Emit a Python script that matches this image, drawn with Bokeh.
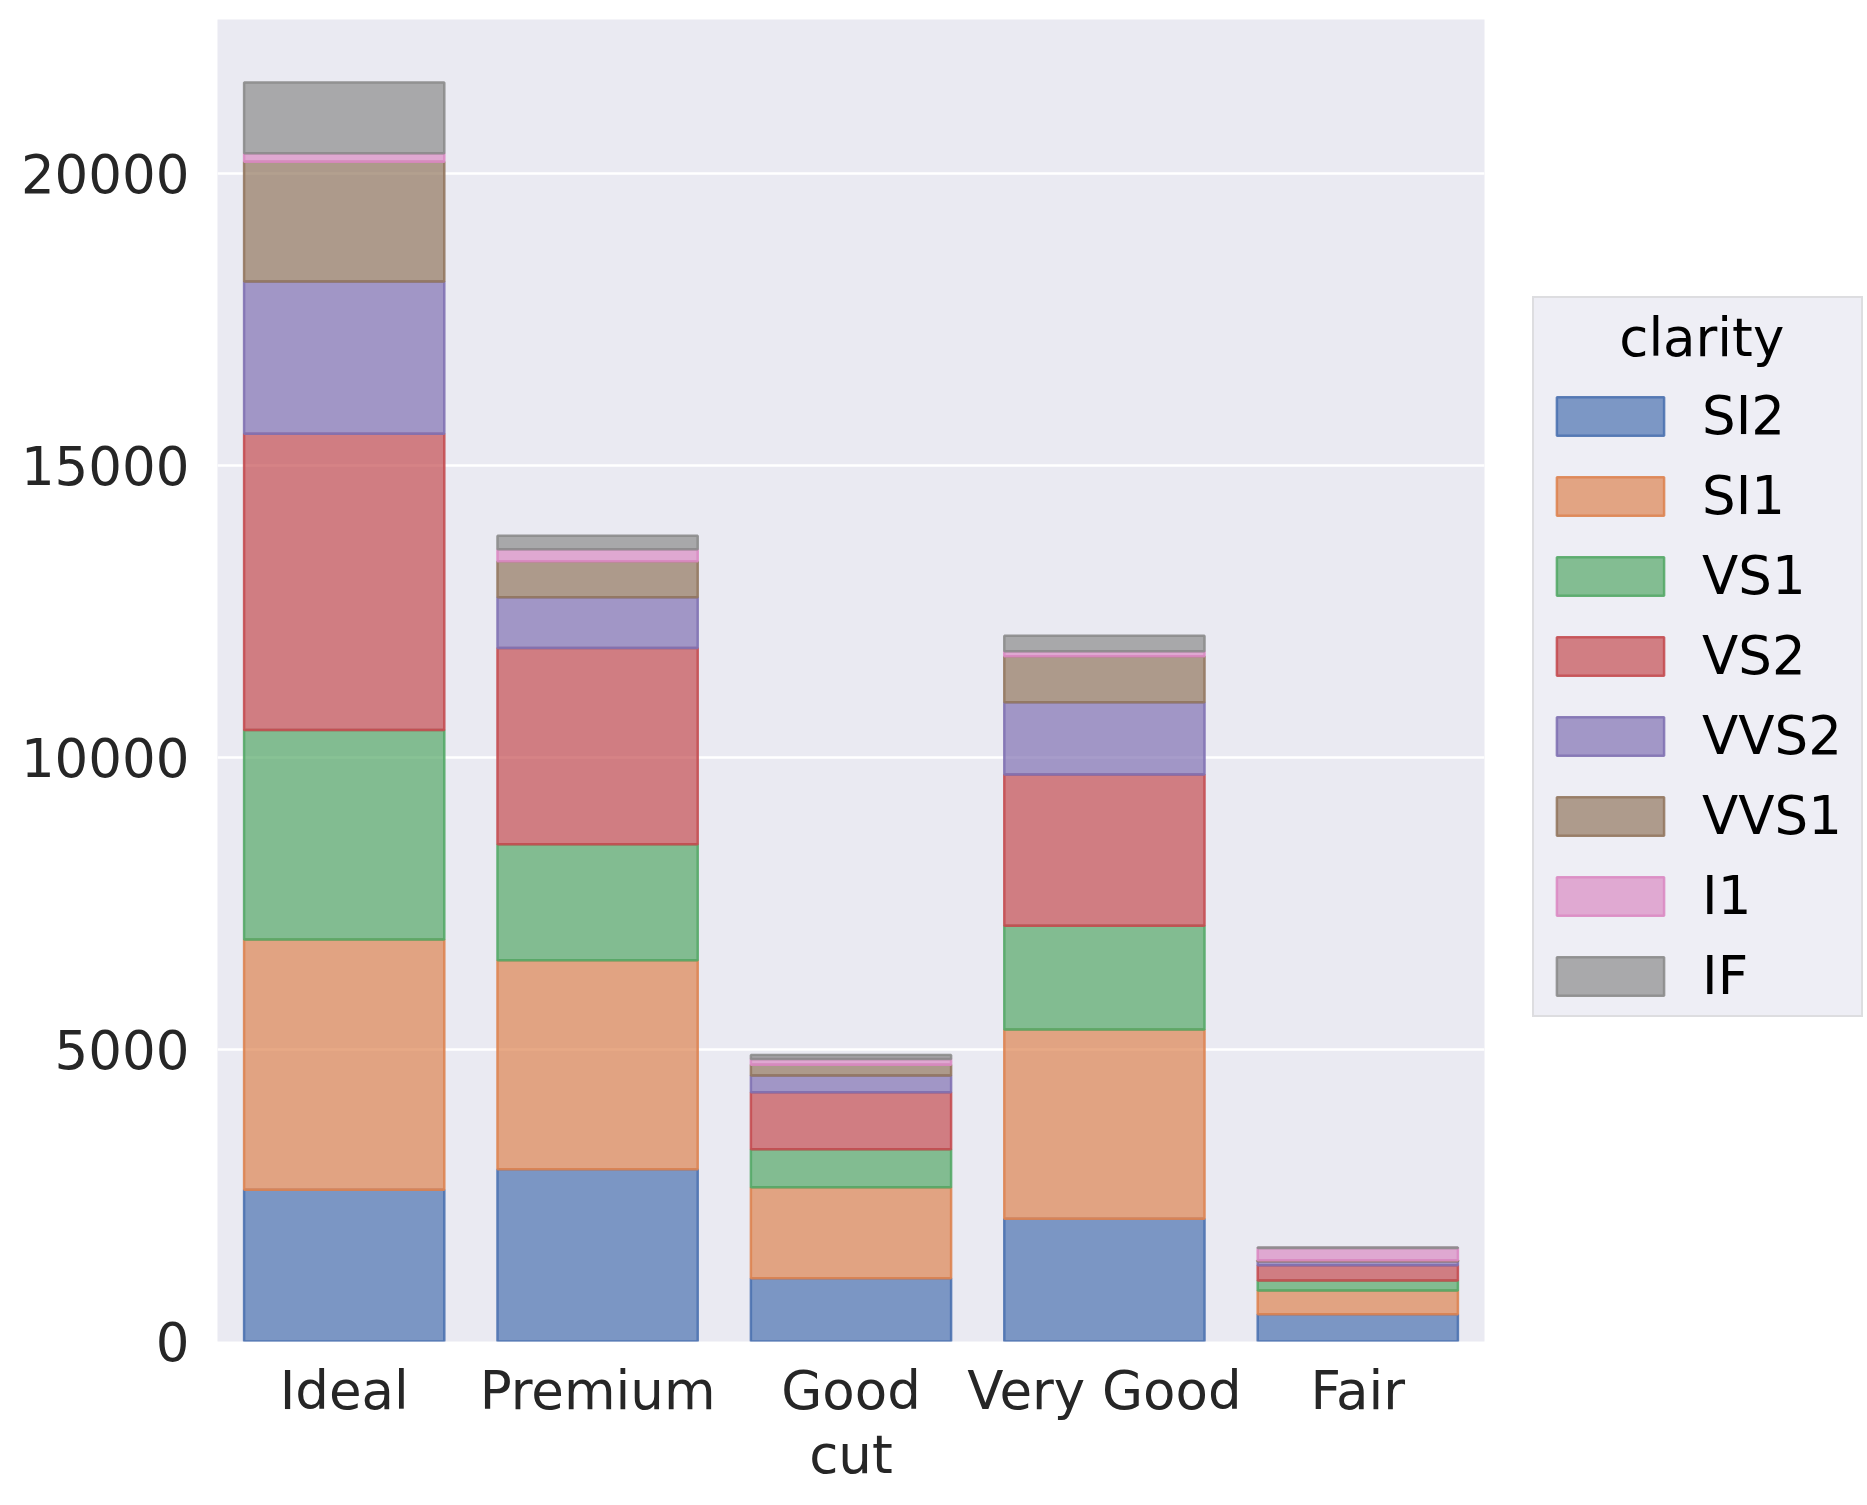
from bokeh.plotting import figure
from bokeh.models import ColumnDataSource, Legend, LegendItem, FixedTicker
from bokeh.embed import file_html
from bokeh.resources import INLINE

cuts = ["Ideal", "Premium", "Good", "Very Good", "Fair"]
clarities = ["SI2", "SI1", "VS1", "VS2", "VVS2", "VVS1", "I1", "IF"]
colors = ["#4C72B0", "#DD8452", "#55A868", "#C44E52", "#8172B3", "#937860", "#DA8BC3", "#8C8C8C"]

SI2 = [2598, 2949, 1081, 2100, 466]
SI1 = [4282, 3575, 1560, 3240, 408]
VS1 = [3589, 1989, 648, 1775, 170]
VS2 = [5071, 3357, 978, 2591, 261]
VVS2 = [2606, 870, 286, 1235, 69]
VVS1 = [2047, 616, 186, 789, 17]
I1 = [146, 205, 96, 84, 210]
IF = [1212, 230, 71, 268, 9]

y_ticks = [0, 5000, 10000, 15000, 20000]
y_max = 22629

data = {"cut": cuts, "SI2": SI2, "SI1": SI1, "VS1": VS1, "VS2": VS2,
        "VVS2": VVS2, "VVS1": VVS1, "I1": I1, "IF": IF}
source = ColumnDataSource(data)

FONT = "DejaVu Sans"
FS = "53px"
TXT = "#262626"

p = figure(x_range=cuts, y_range=(0, y_max), output_backend="svg", toolbar_location=None,
           frame_width=1267, frame_height=1322,
           min_border_left=217, min_border_top=19, min_border_right=366, min_border_bottom=140,
           background_fill_color="#EAEAF2", border_fill_color="white")
p.outline_line_color = None

renderers = p.vbar_stack(clarities, x="cut", width=0.79, source=source,
                         fill_color=colors, line_color=colors,
                         fill_alpha=0.7, line_alpha=0.9, line_width=2.5)

p.xgrid.grid_line_color = None
p.ygrid.grid_line_color = "white"
p.ygrid.grid_line_width = 2.5
p.yaxis.ticker = FixedTicker(ticks=y_ticks)

for ax in (p.xaxis[0], p.yaxis[0]):
    ax.axis_line_color = None
    ax.major_tick_line_color = None
    ax.minor_tick_line_color = None
    ax.major_label_text_font = FONT
    ax.major_label_text_font_size = FS
    ax.major_label_text_color = TXT
    ax.axis_label_text_font = FONT
    ax.axis_label_text_font_size = FS
    ax.axis_label_text_color = TXT
    ax.axis_label_text_font_style = "normal"

p.yaxis.major_label_standoff = 22
p.xaxis.major_label_standoff = 12
p.xaxis.axis_label = "cut"
p.xaxis.axis_label_standoff = 0
p.x_range.range_padding = 0.0

NB = "\u00a0"
title_text = NB * 4 + "\u2006" + "clarity" + NB * 4

items = [LegendItem(label=c, renderers=[r]) for c, r in zip(clarities, renderers)]
legend = Legend(items=items, title=title_text, location=(48, 324), margin=0,
                glyph_width=134, glyph_height=48, label_standoff=25, spacing=19,
                padding=9, title_standoff=17,
                label_text_font=FONT, label_text_font_size=FS, label_text_color="black",
                title_text_font=FONT, title_text_font_size=FS, title_text_color="black",
                title_text_font_style="normal",
                background_fill_color="#EAEAF2", background_fill_alpha=0.8,
                border_line_color="#CCCCCC", border_line_width=2)
p.add_layout(legend, "right")

open("out.html", "w").write(file_html(p, INLINE))
